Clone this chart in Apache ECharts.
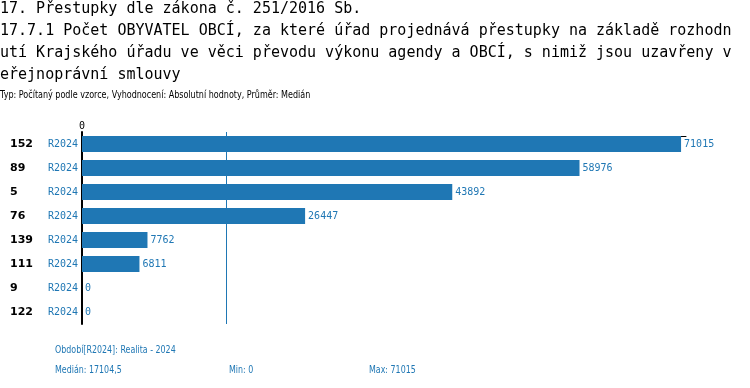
<!DOCTYPE html>
<html><head><meta charset="utf-8">
<script src="https://cdn.jsdelivr.net/npm/echarts@6/dist/echarts.min.js"></script>
<style>html,body{margin:0;padding:0;background:#fff}#c{width:750px;height:388px}</style>
</head><body><div id="c"></div>
<script>
const titleLines = [
  "17. Přestupky dle zákona č. 251/2016 Sb.",
  "17.7.1 Počet OBYVATEL OBCÍ, za které úřad projednává přestupky na základě rozhodn",
  "utí Krajského úřadu ve věci převodu výkonu agendy a OBCÍ, s nimiž jsou uzavřeny v",
  "eřejnoprávní smlouvy"
];
const subtitle = "Typ: Počítaný podle vzorce, Vyhodnocení: Absolutní hodnoty, Průměr: Medián";
const categories = ["152", "89", "5", "76", "139", "111", "9", "122"];
const periodLabel = "R2024";
const values = [71015, 58976, 43892, 26447, 7762, 6811, 0, 0];
const periodText = "Období[R2024]: Realita - 2024";

const sorted = values.slice().sort((a,b)=>a-b);
const n = sorted.length;
const median = n%2 ? sorted[(n-1)/2] : (sorted[n/2-1]+sorted[n/2])/2;
const minV = sorted[0], maxV = sorted[n-1];
const fmt = v => String(v).replace('.', ',');

const blue = '#1f77b4';
const mono = 'DejaVu Sans Mono';
const sans = 'DejaVu Sans, sans-serif';

const chart = echarts.init(document.getElementById('c'), null, {renderer:'canvas'});
const graphics = [];
titleLines.forEach((t,i)=>{
  graphics.push({type:'text', x:0, y: 9 + i*22, style:{text:t, font:'15px "DejaVu Sans Mono"', fill:'#000', verticalAlign:'middle'}});
});
const narrowText = (t, x, y, color, sx) => ({type:'text', x:x, y:y, scaleX:sx, style:{text:t, font:'11px ' + sans, fill:color, verticalAlign:'middle'}});
graphics.push(narrowText(subtitle, 0, 95, '#000', 0.73));
graphics.push(narrowText(periodText, 55, 350, blue, 0.72));
graphics.push(narrowText('Medián: ' + fmt(median), 55, 370, blue, 0.72));
graphics.push(narrowText('Min: ' + fmt(minV), 229, 370, blue, 0.72));
graphics.push(narrowText('Max: ' + fmt(maxV), 369, 370, blue, 0.72));

chart.setOption({
  animation:false,
  graphic: graphics,
  grid:{left:82, top:132, width:604, height:192, containLabel:false},
  xAxis:{
    type:'value', position:'top', min:0, max:71600, interval:71600, offset:-4,
    axisLine:{show:true, lineStyle:{color:'#000', width:1}},
    axisTick:{show:false}, splitLine:{show:false},
    axisLabel:{margin:5, fontFamily:mono, fontSize:10, color:'#000', formatter:v=> v===0?'0':''}
  },
  yAxis:{
    type:'category', inverse:true, data:categories,
    axisLine:{show:true, lineStyle:{color:'#000', width:2}},
    axisTick:{show:false},
    axisLabel:{
      margin:4,
      formatter: v => '{a|' + v + '}{b|' + periodLabel + '}',
      rich:{
        a:{width:38, align:'left', fontFamily:'DejaVu Sans', fontWeight:'bold', fontSize:11, color:'#000'},
        b:{width:30, align:'right', fontFamily:mono, fontSize:10, color:blue}
      }
    }
  },
  series:[{
    type:'bar', data:values, barWidth:16,
    itemStyle:{color:blue},
    label:{show:true, position:'right', distance:3, fontFamily:mono, fontSize:10, color:blue},
    markLine:{
      symbol:'none', silent:true, label:{show:false},
      lineStyle:{color:blue, width:1, type:'solid'},
      data:[{xAxis: median}]
    }
  }]
});
</script></body></html>
